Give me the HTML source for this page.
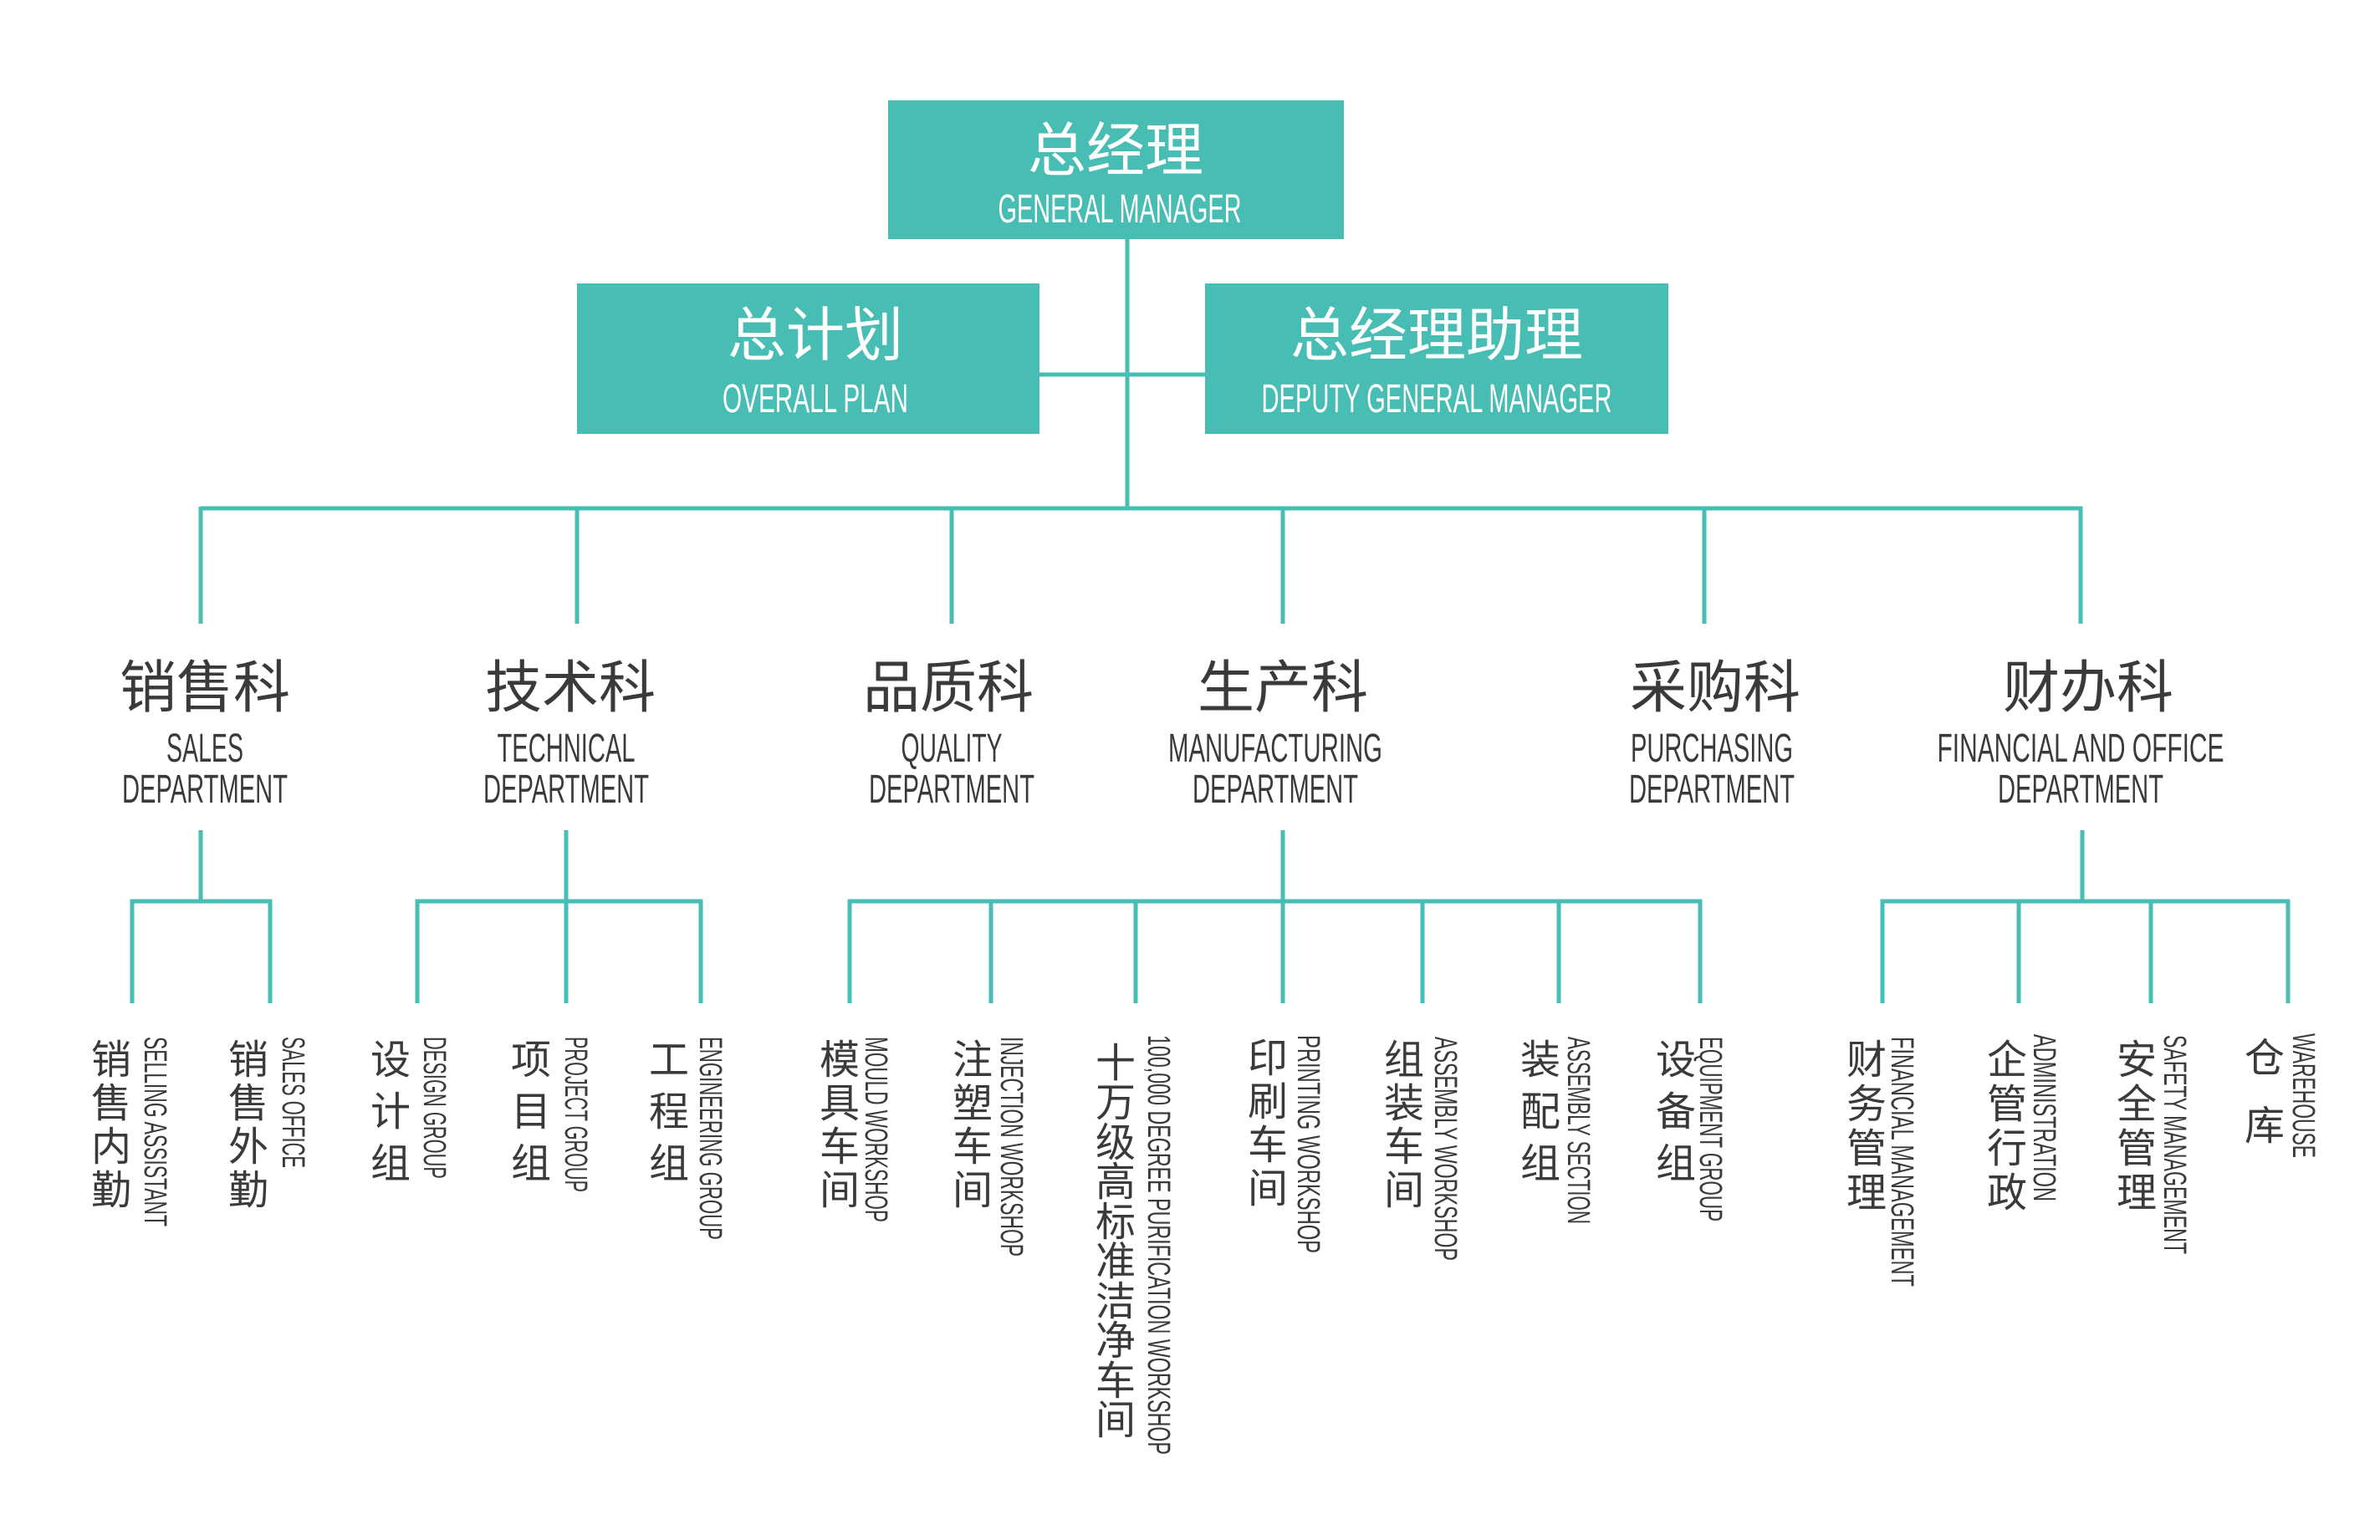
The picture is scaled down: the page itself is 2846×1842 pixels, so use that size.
<!DOCTYPE html>
<html><head><meta charset="utf-8"><style>
html,body{margin:0;padding:0;background:#fff;}
svg{display:block;}
.cn{font-family:"Liberation Sans","Noto Sans CJK SC",sans-serif;}
.en{font-family:"Liberation Sans","Noto Sans CJK SC",sans-serif;}
</style></head><body>
<svg width="2846" height="1842" viewBox="0 0 2846 1842" xmlns="http://www.w3.org/2000/svg">
<rect width="2846" height="1842" fill="#fff"/>
<g fill="#48BDB4">
<rect x="1062" y="120" width="545" height="166"/>
<rect x="690" y="339" width="553" height="180"/>
<rect x="1441" y="339" width="554" height="180"/>
</g>
<g stroke="#48BDB4" stroke-width="5" fill="none">
<line x1="1348" y1="286" x2="1348" y2="608"/>
<line x1="1243" y1="448" x2="1441" y2="448"/>
<line x1="240" y1="608" x2="2490" y2="608"/>
<line x1="240" y1="606" x2="240" y2="746"/>
<line x1="690" y1="606" x2="690" y2="746"/>
<line x1="1138" y1="606" x2="1138" y2="746"/>
<line x1="1534" y1="606" x2="1534" y2="746"/>
<line x1="2038" y1="606" x2="2038" y2="746"/>
<line x1="2488" y1="606" x2="2488" y2="746"/>
<line x1="240" y1="993" x2="240" y2="1078"/>
<line x1="677" y1="993" x2="677" y2="1078"/>
<line x1="1534" y1="993" x2="1534" y2="1078"/>
<line x1="2490" y1="993" x2="2490" y2="1078"/>
<polyline points="158,1200 158,1078 323,1078 323,1200"/>
<polyline points="499,1200 499,1078 838,1078 838,1200"/>
<line x1="677" y1="1078" x2="677" y2="1200"/>
<polyline points="1016,1200 1016,1078 2033,1078 2033,1200"/>
<line x1="1185" y1="1078" x2="1185" y2="1200"/>
<line x1="1358" y1="1078" x2="1358" y2="1200"/>
<line x1="1534" y1="1078" x2="1534" y2="1200"/>
<line x1="1701" y1="1078" x2="1701" y2="1200"/>
<line x1="1864" y1="1078" x2="1864" y2="1200"/>
<polyline points="2251,1200 2251,1078 2736,1078 2736,1200"/>
<line x1="2414" y1="1078" x2="2414" y2="1200"/>
<line x1="2572" y1="1078" x2="2572" y2="1200"/>
</g>
<g fill="#fff" text-anchor="middle">
<text class="cn" x="1334" y="204" font-size="70">总经理</text>
<text class="en" x="1339" y="266" font-size="48" textLength="291" lengthAdjust="spacingAndGlyphs">GENERAL MANAGER</text>
<text class="cn" x="975" y="425" font-size="70">总计划</text>
<text class="en" x="975" y="493" font-size="48" textLength="222" lengthAdjust="spacingAndGlyphs">OVERALL PLAN</text>
<text class="cn" x="1718" y="425" font-size="70">总经理助理</text>
<text class="en" x="1718" y="493" font-size="48" textLength="419" lengthAdjust="spacingAndGlyphs">DEPUTY GENERAL MANAGER</text>
</g>
<g fill="#3a3a3a" text-anchor="middle">
<text class="cn" x="245" y="846" font-size="68">销售科</text>
<text class="cn" x="682" y="846" font-size="68">技术科</text>
<text class="cn" x="1134" y="846" font-size="68">品质科</text>
<text class="cn" x="1534" y="846" font-size="68">生产科</text>
<text class="cn" x="2051" y="846" font-size="68">采购科</text>
<text class="cn" x="2497" y="846" font-size="68">财办科</text>
<g font-size="48" class="en">
<text x="245" y="911" textLength="92" lengthAdjust="spacingAndGlyphs">SALES</text>
<text x="245" y="960" textLength="198" lengthAdjust="spacingAndGlyphs">DEPARTMENT</text>
<text x="677" y="911" textLength="165" lengthAdjust="spacingAndGlyphs">TECHNICAL</text>
<text x="677" y="960" textLength="198" lengthAdjust="spacingAndGlyphs">DEPARTMENT</text>
<text x="1138" y="911" textLength="121" lengthAdjust="spacingAndGlyphs">QUALITY</text>
<text x="1138" y="960" textLength="198" lengthAdjust="spacingAndGlyphs">DEPARTMENT</text>
<text x="1525" y="911" textLength="256" lengthAdjust="spacingAndGlyphs">MANUFACTURING</text>
<text x="1525" y="960" textLength="198" lengthAdjust="spacingAndGlyphs">DEPARTMENT</text>
<text x="2047" y="911" textLength="194" lengthAdjust="spacingAndGlyphs">PURCHASING</text>
<text x="2047" y="960" textLength="198" lengthAdjust="spacingAndGlyphs">DEPARTMENT</text>
<text x="2488" y="911" textLength="343" lengthAdjust="spacingAndGlyphs">FINANCIAL AND OFFICE</text>
<text x="2488" y="960" textLength="198" lengthAdjust="spacingAndGlyphs">DEPARTMENT</text>
</g>
<g class="cn" font-size="48">
<text x="133" y="1284">销</text><text x="133" y="1336">售</text><text x="133" y="1388">内</text><text x="133" y="1440">勤</text>
<text x="297" y="1284">销</text><text x="297" y="1336">售</text><text x="297" y="1388">外</text><text x="297" y="1440">勤</text>
<text x="467" y="1284">设</text><text x="467" y="1346">计</text><text x="467" y="1408">组</text>
<text x="635" y="1284">项</text><text x="635" y="1346">目</text><text x="635" y="1408">组</text>
<text x="800" y="1284">工</text><text x="800" y="1346">程</text><text x="800" y="1408">组</text>
<text x="1004" y="1284">模</text><text x="1004" y="1336">具</text><text x="1004" y="1388">车</text><text x="1004" y="1440">间</text>
<text x="1163" y="1284">注</text><text x="1163" y="1336">塑</text><text x="1163" y="1388">车</text><text x="1163" y="1440">间</text>
<text x="1334" y="1288">十</text><text x="1334" y="1335">万</text><text x="1334" y="1383">级</text><text x="1334" y="1430">高</text><text x="1334" y="1478">标</text><text x="1334" y="1525">准</text><text x="1334" y="1573">洁</text><text x="1334" y="1620">净</text><text x="1334" y="1668">车</text><text x="1334" y="1715">间</text>
<text x="1516" y="1282">印</text><text x="1516" y="1334">刷</text><text x="1516" y="1386">车</text><text x="1516" y="1438">间</text>
<text x="1679" y="1284">组</text><text x="1679" y="1336">装</text><text x="1679" y="1388">车</text><text x="1679" y="1440">间</text>
<text x="1842" y="1284">装</text><text x="1842" y="1346">配</text><text x="1842" y="1408">组</text>
<text x="2004" y="1284">设</text><text x="2004" y="1346">备</text><text x="2004" y="1408">组</text>
<text x="2232" y="1284">财</text><text x="2232" y="1337">务</text><text x="2232" y="1390">管</text><text x="2232" y="1443">理</text>
<text x="2400" y="1284">企</text><text x="2400" y="1337">管</text><text x="2400" y="1390">行</text><text x="2400" y="1443">政</text>
<text x="2555" y="1284">安</text><text x="2555" y="1337">全</text><text x="2555" y="1390">管</text><text x="2555" y="1443">理</text>
<text x="2708" y="1282">仓</text><text x="2708" y="1363">库</text>
</g>
<g class="en" font-size="38" text-anchor="start">
<text transform="translate(173,1240) rotate(90)" textLength="227" lengthAdjust="spacingAndGlyphs">SELLING ASSISTANT</text>
<text transform="translate(338,1240) rotate(90)" textLength="157" lengthAdjust="spacingAndGlyphs">SALES OFFICE</text>
<text transform="translate(507,1240) rotate(90)" textLength="170" lengthAdjust="spacingAndGlyphs">DESIGN GROUP</text>
<text transform="translate(676,1240) rotate(90)" textLength="186" lengthAdjust="spacingAndGlyphs">PROJECT GROUP</text>
<text transform="translate(837,1240) rotate(90)" textLength="243" lengthAdjust="spacingAndGlyphs">ENGINEERING GROUP</text>
<text transform="translate(1035,1240) rotate(90)" textLength="222" lengthAdjust="spacingAndGlyphs">MOULD WORKSHOP</text>
<text transform="translate(1197,1240) rotate(90)" textLength="263" lengthAdjust="spacingAndGlyphs">INJECTION WORKSHOP</text>
<text transform="translate(1373,1238) rotate(90)" textLength="502" lengthAdjust="spacingAndGlyphs">100,000 DEGREE PURIFICATION WORKSHOP</text>
<text transform="translate(1552,1238) rotate(90)" textLength="261" lengthAdjust="spacingAndGlyphs">PRINTING  WORKSHOP</text>
<text transform="translate(1716,1240) rotate(90)" textLength="268" lengthAdjust="spacingAndGlyphs">ASSEMBLY  WORKSHOP</text>
<text transform="translate(1875,1240) rotate(90)" textLength="224" lengthAdjust="spacingAndGlyphs">ASSEMBLY SECTION</text>
<text transform="translate(2033,1240) rotate(90)" textLength="221" lengthAdjust="spacingAndGlyphs">EQUIPMENT GROUP</text>
<text transform="translate(2262,1240) rotate(90)" textLength="299" lengthAdjust="spacingAndGlyphs">FINANCIAL MANAGEMENT</text>
<text transform="translate(2432,1237) rotate(90)" textLength="200" lengthAdjust="spacingAndGlyphs">ADMINISTRATION</text>
<text transform="translate(2588,1238) rotate(90)" textLength="262" lengthAdjust="spacingAndGlyphs">SAFETY MANAGEMENT</text>
<text transform="translate(2742,1236) rotate(90)" textLength="149" lengthAdjust="spacingAndGlyphs">WAREHOUSE</text>
</g>
</g>
</svg>
</body></html>
